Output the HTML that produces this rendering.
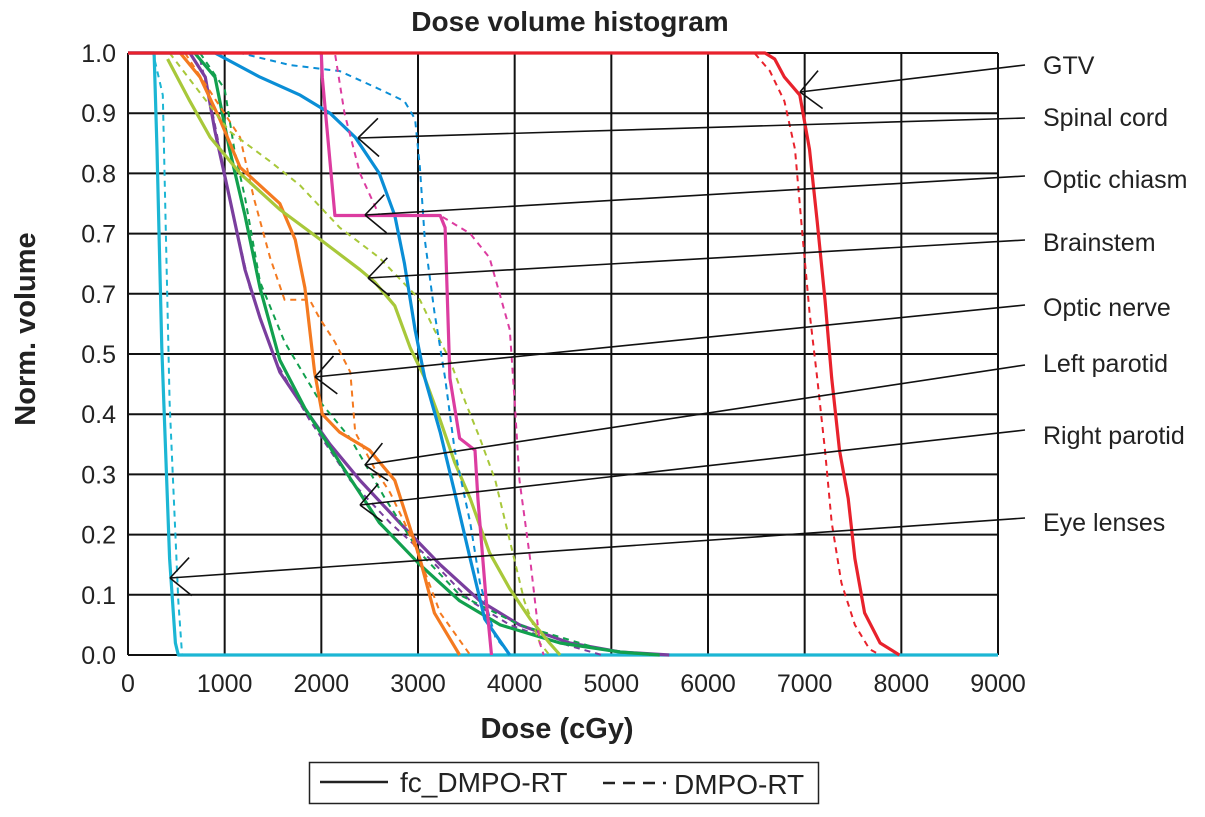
<!DOCTYPE html>
<html><head><meta charset="utf-8"><style>
html,body{margin:0;padding:0;background:#fff;}
svg{display:block;font-family:"Liberation Sans",Arial,sans-serif;}
</style></head><body>
<svg id="chart" width="1205" height="817" viewBox="0 0 1205 817">
<text x="570" y="31" text-anchor="middle" font-size="28" font-weight="bold" fill="#222">Dose volume histogram</text>
<text x="557" y="738" text-anchor="middle" font-size="29" font-weight="bold" fill="#222">Dose (cGy)</text>
<text transform="translate(35,329) rotate(-90)" text-anchor="middle" font-size="29" font-weight="bold" fill="#222">Norm. volume</text>
<g id="grid"></g>
<g id="series"></g>
<g id="ticks"></g>
<g id="annot"></g>
<g>
<rect x="309.5" y="762.5" width="509" height="41" fill="none" stroke="#222" stroke-width="1.5"/>
<line x1="320" y1="782" x2="388" y2="782" stroke="#222" stroke-width="2.5"/>
<text x="400" y="792" font-size="28" fill="#222">fc_DMPO-RT</text>
<line x1="603" y1="783" x2="666" y2="783" stroke="#222" stroke-width="2.5" stroke-dasharray="12,8"/>
<text x="674" y="794" font-size="28" fill="#222">DMPO-RT</text>
</g>
</svg>
<script>
const xTicks=[0,1000,2000,3000,4000,5000,6000,7000,8000,9000];
const yTicks=[1.0,0.9,0.8,0.7,0.6,0.5,0.4,0.3,0.2,0.1,0.0];
const yTickLabels=["1.0","0.9","0.8","0.7","0.7","0.5","0.4","0.3","0.2","0.1","0.0"];
const structures=["GTV","Spinal cord","Optic chiasm","Brainstem","Optic nerve","Left parotid","Right parotid","Eye lenses"];
const gtvSolid=[[0,1],[6590,1],[6690,0.99],[6790,0.96],[6950,0.93],[7050,0.84],[7130,0.72],[7210,0.59],[7280,0.46],[7360,0.34],[7450,0.26],[7520,0.16],[7620,0.07],[7780,0.02],[7980,0]];
const gtvDashed=[[0,1],[6480,1],[6640,0.97],[6790,0.92],[6900,0.84],[6970,0.71],[7050,0.57],[7130,0.46],[7210,0.34],[7280,0.22],[7380,0.12],[7520,0.05],[7670,0.01],[7780,0]];
const cordSolid=[[0,1],[900,1],[1365,0.96],[1780,0.93],[2090,0.9],[2350,0.86],[2600,0.8],[2760,0.73],[2860,0.65],[2970,0.54],[3070,0.46],[3230,0.37],[3380,0.27],[3540,0.16],[3690,0.06],[3950,0]];
const cordDashed=[[0,1],[1160,1],[1675,0.98],[2190,0.97],[2600,0.94],[2860,0.92],[2970,0.89],[3020,0.81],[3070,0.69],[3170,0.57],[3280,0.46],[3380,0.34],[3540,0.22],[3640,0.12],[3800,0.03],[3950,0]];
const chiasmSolid=[[0,1],[2000,1],[2010,0.96],[2140,0.73],[3230,0.73],[3280,0.71],[3330,0.46],[3430,0.36],[3590,0.34],[3620,0.26],[3700,0.1],[3760,0]];
const chiasmDashed=[[0,1],[2140,1],[2240,0.9],[2400,0.8],[2600,0.73],[3230,0.73],[3540,0.7],[3740,0.66],[3950,0.54],[4000,0.42],[4050,0.29],[4160,0.16],[4260,0.02],[4300,0]];
const brainSolid=[[410,0.99],[640,0.92],[850,0.86],[1160,0.8],[1570,0.74],[1990,0.69],[2400,0.64],[2550,0.62],[2760,0.58],[2920,0.51],[3070,0.46],[3230,0.39],[3380,0.32],[3540,0.26],[3740,0.17],[3950,0.11],[4160,0.06],[4360,0.02],[4470,0]];
const brainDashed=[[430,1],[1050,0.87],[1470,0.82],[1780,0.78],[2190,0.71],[2600,0.66],[3020,0.59],[3170,0.54],[3330,0.49],[3490,0.42],[3640,0.36],[3800,0.29],[3950,0.19],[4100,0.09],[4260,0.02],[4360,0]];
const nerveSolid=[[540,1],[745,0.96],[950,0.89],[1160,0.81],[1365,0.78],[1570,0.75],[1730,0.69],[1830,0.61],[1930,0.47],[2010,0.4],[2190,0.37],[2500,0.34],[2760,0.29],[2860,0.24],[3020,0.16],[3170,0.07],[3430,0]];
const nerveDashed=[[590,1],[1160,0.86],[1300,0.76],[1470,0.66],[1620,0.59],[1880,0.59],[1980,0.56],[2140,0.52],[2300,0.47],[2350,0.37],[2550,0.31],[2710,0.27],[2860,0.22],[3020,0.16],[3230,0.07],[3540,0]];
const lparSolid=[[690,1],[900,0.96],[1050,0.84],[1210,0.73],[1365,0.61],[1570,0.49],[1830,0.41],[2190,0.32],[2600,0.22],[3020,0.15],[3430,0.09],[3850,0.05],[4470,0.02],[5090,0.005],[5500,0]];
const lparDashed=[[745,1],[1000,0.94],[1100,0.84],[1210,0.76],[1365,0.62],[1620,0.52],[1990,0.42],[2300,0.36],[2660,0.26],[3020,0.17],[3430,0.1],[4050,0.05],[4880,0.01],[5400,0]];
const rparSolid=[[640,1],[800,0.96],[900,0.87],[1050,0.76],[1210,0.64],[1365,0.56],[1570,0.47],[1780,0.42],[2090,0.35],[2400,0.29],[2810,0.22],[3230,0.15],[3640,0.09],[4050,0.05],[4570,0.02],[5090,0.005],[5600,0]];
const rparDashed=[[745,0.99],[850,0.92],[1050,0.76],[1260,0.61],[1520,0.49],[1880,0.39],[2300,0.29],[2710,0.22],[3120,0.16],[3540,0.09],[3950,0.05],[4470,0.02],[4900,0]];
const lensSolid=[[0,1],[270,1],[300,0.84],[350,0.51],[430,0.16],[490,0.02],[520,0],[9000,0]];
const lensDashed=[[0,1],[260,1],[360,0.93],[430,0.42],[520,0.09],[560,0],[9000,0]];
const seriesList=[
 ["lens",lensSolid,lensDashed,"#1cb6d4"],
 ["right-parotid",rparSolid,rparDashed,"#7a3e9e"],
 ["left-parotid",lparSolid,lparDashed,"#12a04e"],
 ["optic-nerve",nerveSolid,nerveDashed,"#f47a20"],
 ["brainstem",brainSolid,brainDashed,"#a8c83a"],
 ["spinal-cord",cordSolid,cordDashed,"#0a8ed6"],
 ["optic-chiasm",chiasmSolid,chiasmDashed,"#dc3ca0"],
 ["gtv",gtvSolid,gtvDashed,"#e8222c"]];
const NS="http://www.w3.org/2000/svg";
const X0=128,X1=998,Y0=655,Y1=53;
function sx(d){return X0+(d/9000)*(X1-X0);}
function sy(v){return Y0-v*(Y0-Y1);}
function mk(tag,attrs,parent){const e=document.createElementNS(NS,tag);for(const k in attrs)e.setAttribute(k,attrs[k]);parent.appendChild(e);return e;}
const grid=document.getElementById('grid');
xTicks.forEach(function(t){const l=mk('line',{x1:sx(t),y1:Y1,x2:sx(t),y2:Y0,stroke:'#111','stroke-width':2},grid);

});
yTicks.forEach(function(t){const l=mk('line',{x1:X0,y1:sy(t),x2:X1,y2:sy(t),stroke:'#111','stroke-width':2},grid);

});
const ticks=document.getElementById('ticks');
xTicks.forEach(function(t){const e=mk('text',{x:sx(t),y:692,'text-anchor':'middle','font-size':25,fill:'#222'},ticks);e.textContent=String(t);

});
yTicks.forEach(function(t,i){const e=mk('text',{x:116,y:sy(t)+9,'text-anchor':'end','font-size':25,fill:'#222'},ticks);e.textContent=yTickLabels[i];

});
const sg=document.getElementById('series');
function pts(a){return a.map(function(p){return sx(p[0]).toFixed(1)+','+sy(p[1]).toFixed(1);}).join(' ');}
seriesList.forEach(function(s){
 const d=mk('polyline',{points:pts(s[2]),fill:'none',stroke:s[3],'stroke-width':2,'stroke-dasharray':'6,5'},sg);
 
 
 const l=mk('polyline',{points:pts(s[1]),fill:'none',stroke:s[3],'stroke-width':3.2,'stroke-linejoin':'round'},sg);
 
 
});
const an=document.getElementById('annot');
const labelY=[65,117,179,242,307,363,435,522];
const lineStart=[[1025,65],[1025,118],[1025,176],[1025,240],[1025,305],[1025,365],[1025,430],[1025,518]];
const tips=[[800,92],[358,138],[365,215],[368,278],[315,377],[365,465],[360,505],[170,578]];
structures.forEach(function(n,i){
 const t=mk('text',{x:1043,y:labelY[i]+9,'font-size':25,fill:'#222'},an);t.textContent=n;
 
 
 const a=lineStart[i],b=tips[i];
 const l=mk('line',{x1:a[0],y1:a[1],x2:b[0],y2:b[1],stroke:'#111','stroke-width':1.6},an);
 
 
 const ang=Math.atan2(a[1]-b[1],a[0]-b[0]);
 [0.75,-0.75].forEach(function(o){const h=mk('line',{x1:b[0],y1:b[1],x2:b[0]+28*Math.cos(ang+o),y2:b[1]+28*Math.sin(ang+o),stroke:'#111','stroke-width':1.6},an);
 
 });
});
</script>
</body></html>
